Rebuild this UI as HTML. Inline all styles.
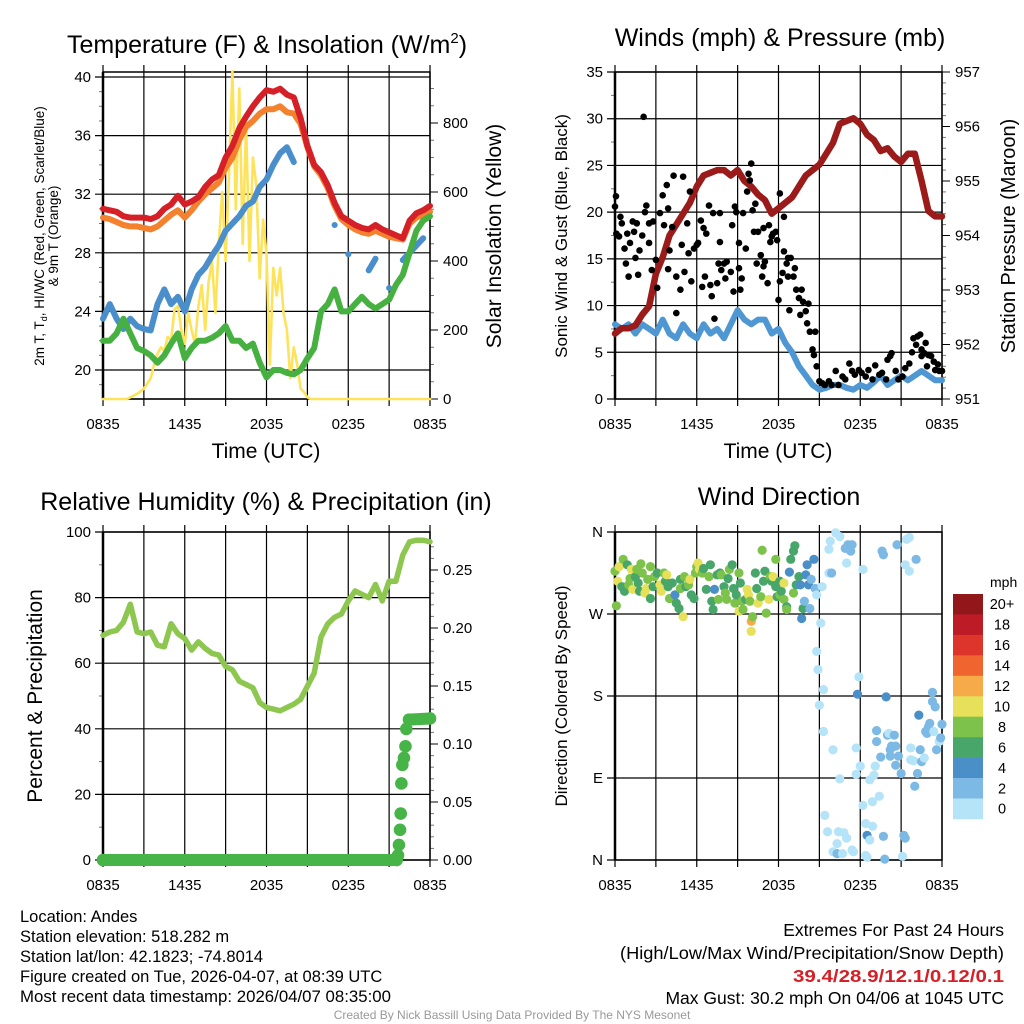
<!DOCTYPE html>
<html><head><meta charset="utf-8"><style>
html,body{margin:0;padding:0;background:#fff;}
svg{display:block;font-family:"Liberation Sans",Arial,sans-serif;}
</style></head><body>
<svg id="fig" width="1024" height="1024" viewBox="0 0 1024 1024" xmlns="http://www.w3.org/2000/svg">
<rect width="1024" height="1024" fill="#fff"/>
<!-- titles -->
<text x="267" y="53" font-size="25" text-anchor="middle">Temperature (F) &amp; Insolation (W/m<tspan font-size="15" dy="-10">2</tspan><tspan dy="10">)</tspan></text>
<text x="780" y="46" font-size="25" text-anchor="middle">Winds (mph) &amp; Pressure (mb)</text>
<text x="266" y="510" font-size="25" text-anchor="middle">Relative Humidity (%) &amp; Precipitation (in)</text>
<text x="779" y="505" font-size="25" text-anchor="middle">Wind Direction</text>
<!-- axis titles -->
<g font-size="13.5" text-anchor="middle">
<text transform="translate(44,236) rotate(-90)">2m T, T<tspan font-size="9" dy="3">d</tspan><tspan dy="-3">, HI/WC (Red, Green, Scarlet/Blue)</tspan></text>
<text transform="translate(58,236) rotate(-90)">&amp; 9m T (Orange)</text>
</g>
<text transform="translate(501,236) rotate(-90)" font-size="21" text-anchor="middle">Solar Insolation (Yellow)</text>
<text x="266" y="458" font-size="21" text-anchor="middle">Time (UTC)</text>
<text x="778" y="458" font-size="21" text-anchor="middle">Time (UTC)</text>
<text transform="translate(567,236) rotate(-90)" font-size="17" text-anchor="middle">Sonic Wind &amp; Gust (Blue, Black)</text>
<text transform="translate(1015,236) rotate(-90)" font-size="20" text-anchor="middle">Station Pressure (Maroon)</text>
<text transform="translate(42,696) rotate(-90)" font-size="21" text-anchor="middle">Percent &amp; Precipitation</text>
<text transform="translate(567,696) rotate(-90)" font-size="17" text-anchor="middle">Direction (Colored By Speed)</text>
<!-- footer -->
<g font-size="16.5">
<text x="20" y="922">Location: Andes</text>
<text x="20" y="942">Station elevation: 518.282 m</text>
<text x="20" y="962">Station lat/lon: 42.1823; -74.8014</text>
<text x="20" y="982">Figure created on Tue, 2026-04-07, at 08:39 UTC</text>
<text x="20" y="1002" textLength="371" lengthAdjust="spacingAndGlyphs">Most recent data timestamp: 2026/04/07 08:35:00</text>
</g>
<g font-size="17.5" text-anchor="end">
<text x="1004" y="936">Extremes For Past 24 Hours</text>
<text x="1004" y="959" textLength="384" lengthAdjust="spacingAndGlyphs">(High/Low/Max Wind/Precipitation/Snow Depth)</text>
<text x="1004" y="982" fill="#d42026" font-weight="bold" textLength="211" lengthAdjust="spacingAndGlyphs">39.4/28.9/12.1/0.12/0.1</text>
<text x="1004" y="1004">Max Gust: 30.2 mph On 04/06 at 1045 UTC</text>
</g>
<text x="512" y="1019" font-size="12" fill="#999" text-anchor="middle">Created By Nick Bassill Using Data Provided By The NYS Mesonet</text>
<g id="plots"></g>
</svg>
<script>
// ---------- data ----------
const xTickLabels = ["0835","1435","2035","0235","0835"];
const tempRed = [31.0,30.9,30.8,30.5,30.4,30.4,30.4,30.3,30.5,31.0,31.3,31.9,31.3,31.5,31.8,32.5,33.0,33.3,34.5,35.3,36.5,37.3,38.0,38.6,39.1,39.0,39.2,38.8,38.6,37.2,35.3,34.0,33.5,32.6,31.4,30.5,30.2,29.9,29.7,29.6,29.9,29.6,29.4,29.2,29.0,30.2,30.7,30.9,31.2];
const tempOrange = [30.4,30.3,30.1,29.9,29.8,29.8,29.7,29.6,29.8,30.2,30.6,30.9,30.4,30.9,31.5,32.0,32.4,32.8,33.8,34.5,35.7,36.6,37.0,37.5,37.8,37.8,38.0,37.6,37.5,36.8,35.2,33.9,33.3,32.4,31.2,30.3,29.9,29.6,29.4,29.3,29.5,29.3,29.1,29.0,28.9,30.0,30.4,30.6,30.8];
const tempBlue = [23.5,24.5,23.5,22.8,23.5,23.0,22.8,22.7,24.5,25.5,24.5,25.0,24.0,25.5,26.5,27.0,27.8,28.5,29.5,30.0,30.5,31.2,31.5,32.5,33.0,34.0,34.8,35.2,34.2,null,null,null,null,null,29.9,null,27.9,null,null,26.8,27.6,null,25.6,null,27.5,28.0,28.5,29.0,null];
const tempGreen = [22.0,22.0,22.5,23.5,22.5,21.5,21.3,21.0,20.5,21.0,21.8,22.5,20.8,21.5,22.0,22.0,22.2,22.5,23.0,22.0,22.0,21.5,21.8,20.5,19.5,20.0,20.0,19.8,19.7,20.0,20.8,21.5,24.0,24.5,25.5,24.0,24.0,24.5,25.0,24.5,24.2,24.5,24.8,25.8,26.5,28.0,29.5,30.2,30.5];
const solar = [0,0,0,0,0,0,0,0,5,10,15,22,30,45,60,100,130,150,140,180,170,260,270,200,160,250,200,160,270,330,200,340,400,250,450,600,400,650,950,550,900,450,800,400,700,620,350,520,420,100,380,300,380,250,200,60,150,100,30,20,5,0,0,0,0,0,0,0,0,0,0,0,0,0,0,0,0,0,0,0,0,0,0,0,0,0,0,0,0,0,0,0,0,0,0,0,0];
const windSpeed = [8,7.5,8,7,8,7.5,7,8.5,7,6.5,8,7,6.5,8,7,7.5,6.5,8,9.5,8.5,8,8.5,8.5,7,7.5,6,5,3.5,2.5,1.5,1,1.2,1.5,1.5,1.2,1,1.5,1.2,1.8,2.5,1.5,2,2.5,2,2.5,3,2.5,2,2];
const pressure = [952.2,952.3,952.3,952.35,952.55,952.7,953.3,953.6,954.0,954.2,954.4,954.6,954.9,955.1,955.15,955.2,955.2,955.1,955.2,955.0,954.9,954.75,954.65,954.4,954.5,954.6,954.7,954.9,955.1,955.2,955.3,955.5,955.7,956.05,956.1,956.15,956.05,955.85,955.75,955.55,955.6,955.45,955.35,955.5,955.5,955.0,954.45,954.35,954.35];
const gustHours = [0,0.07,0.1,0.3,0.4,0.5,0.7,0.9,0.8,1.0,1.1,1.3,1.4,1.5,1.6,1.7,1.8,2.0,2.1,2.2,2.3,2.5,2.5,2.7,2.8,3.0,3.1,3.3,3.5,3.6,3.8,3.9,3.9,4.0,4.2,4.3,4.5,4.5,4.8,4.9,5.0,5.1,5.3,5.5,5.4,5.6,5.8,6.0,6.1,6.3,6.4,6.5,6.6,6.7,6.9,7.0,7.1,7.2,7.3,7.5,7.6,7.7,7.7,7.8,8.0,8.1,8.2,8.5,8.6,8.7,8.8,8.9,9.1,9.1,9.2,9.3,9.4,9.6,9.7,9.8,9.9,10.0,10.1,10.2,10.3,10.4,10.5,10.7,10.8,10.9,10.9,11.0,11.2,11.3,11.4,11.5,11.6,11.8,11.9,12.0,12.1,12.1,12.3,12.4,12.4,12.6,12.7,12.7,12.8,12.9,13.1,13.2,13.3,13.5,13.6,13.7,13.8,14.0,14.1,14.2,14.3,14.5,14.6,14.7,14.8,15.0,15.2,15.4,15.7,15.9,16.2,16.4,16.7,16.9,17.2,17.4,17.6,17.9,18.1,18.4,18.6,18.9,19.1,19.4,19.6,19.9,20.0,20.2,20.3,20.6,20.8,21.1,21.3,21.6,21.8,21.9,22.1,22.2,22.4,22.5,22.5,22.7,22.8,22.9,23.0,23.2,23.4,23.5,23.7,23.8,24.0];
const gustValues = [20.6,21.7,17.7,17.4,19.5,18.8,16.1,17.7,14.5,13.1,16.7,19,17.9,15.1,18.8,13.3,15.9,17.5,30.2,20,20.7,18.8,16.7,13.8,19,14.9,11.9,19.9,21.8,18.6,22.9,20.4,13.9,15.9,18.4,23.9,13.1,9.2,11.7,16.5,23.8,13.6,18.8,22.2,15.6,12.6,16.1,16.5,16.7,19.1,12,18.3,13.1,17.7,20.7,12.2,11,19.9,8.6,12.4,14.5,19.9,16.8,13.8,14.5,12.9,14.7,13.6,18.6,11.5,20.6,20,14,16.7,11.7,12.9,19.9,16.1,22.2,24.1,23.4,25.2,20.2,17.9,20.9,14.5,17.9,15.4,13.1,18.3,14.2,14.7,12.4,18.6,16.8,17.4,17.7,17.9,17,10.6,22,12.6,13.5,19.5,15.8,14.5,15.1,13.1,9.5,15.1,13.1,14,11.7,10.8,9,11.7,10.4,9.4,8.1,10.2,7.2,5.3,4.7,7.2,3.5,1.9,1.7,1.5,1.9,1.5,3,1.5,2.4,2.1,3.8,3,2.6,3.1,2.8,2.4,3.1,2.1,3.6,2.6,2.8,2.1,4.2,4.6,4.9,3,2.1,2.4,3.3,3.8,5,6.5,5.8,6.7,6.9,4.6,5.3,4.9,6,3.5,4.7,4.6,4,3.1,3.7,3,3];
const humidity = [68.5,69.5,70,72.5,78,69.5,69,69.5,65.5,65,72,69,67.5,64,66.5,64.5,63,62.5,59,58,54.5,53.5,52.5,48,46.5,46,45.5,46.5,47.5,49,53,57,68,72,74,75,79,82,81,80,84,79,85,85,93,97,97.5,97.5,97];
const precipHours = [0,21.55,21.65,21.72,21.8,21.85,21.9,21.97,22.09,22.2,22.26,22.46,24];
const precipValues = [0,0,0.004,0.013,0.026,0.04,0.066,0.082,0.088,0.098,0.113,0.121,0.122];
const dirHours = [0.0,0.1,0.2,0.3,0.5,0.6,0.7,0.9,1.0,1.1,1.2,1.3,1.5,1.6,1.7,1.8,1.9,2.0,2.2,2.3,2.4,2.6,2.6,2.8,2.9,3.1,3.3,3.4,3.6,3.7,3.8,3.9,4.0,4.2,4.4,4.5,4.7,4.8,4.8,5.0,5.1,5.2,5.4,5.5,5.6,5.8,5.9,6.0,6.1,6.2,6.4,6.5,6.7,6.9,7.0,7.1,7.2,7.3,7.5,7.6,7.7,7.8,8.0,8.1,8.2,8.3,8.4,8.6,8.7,8.8,8.9,9.1,9.2,9.3,9.1,9.4,9.6,9.7,9.8,9.9,10.0,10.0,10.1,10.3,10.4,10.5,10.7,10.8,10.9,11.0,11.1,11.3,11.4,11.5,11.6,11.8,11.8,11.9,12.1,12.1,12.2,12.4,12.4,12.6,12.6,12.8,12.9,13.1,13.1,13.2,13.3,13.5,13.6,13.7,13.8,13.9,14.0,14.1,14.2,14.3,14.4,14.6,14.7,14.8,15.2,15.1,14.8,14.9,15.3,15.0,15.3,16.0,15.4,15.6,15.7,15.7,15.8,16.2,16.5,16.9,17.1,17.4,17.3,17.0,18.2,17.9,17.8,17.7,18.0,17.7,16.5,16.0,16.3,16.7,16.3,17.0,16.4,16.8,17.4,17.5,18.2,18.4,18.5,18.7,18.9,18.9,19.4,18.7,19.0,19.1,19.2,19.2,19.5,19.7,19.8,18.4,18.5,19.9,20.0,20.1,20.2,20.3,20.5,20.6,20.2,20.6,20.8,21.0,21.2,21.3,21.1,21.7,21.7,21.9,22.0,22.2,22.3,22.4,22.5,22.7,22.8,22.9,23.0,23.1,23.3,23.3,23.5,23.4,23.6,23.8,23.9,24.0,19.6,19.7,20.7,21.4,21.6,21.3,21.6,22.1,15.9];
const dirDegrees = [317,279,306,322,300,330,295,324,302,309,319,297,311,319,304,295,325,315,293,298,308,287,322,300,311,315,302,295,315,306,313,300,287,304,291,282,276,298,308,267,311,300,302,308,291,287,315,322,326,319,315,320,297,311,324,284,275,297,313,286,315,313,300,293,286,309,319,324,298,282,291,315,304,284,273,275,286,297,291,284,262,251,267,315,298,282,289,340,306,317,271,286,311,306,311,330,300,289,291,306,295,304,286,278,275,316,330,293,339,345,302,311,302,265,276,284,313,324,302,276,308,330,298,291,300,260,229,209,187,170,141,121,49,31,315,341,350,359,355,342,346,346,339,326,319,201,182,123,103,94,89,9,7,7,18,24,31,30,11,9,60,40,27,22,37,64,70,88,93,103,130,142,113,26,1,5,3,179,137,139,121,125,137,125,114,104,114,95,27,24,4,110,123,109,81,95,159,121,108,112,141,139,146,150,184,174,168,141,121,130,134,149,339,335,346,352,354,324,317,330,315];
const dirSpeeds = [9,9,11,11,7,9,7,7,9,9,11,11,7,9,7,7,9,9,11,11,9,7,9,7,9,7,11,11,9,7,11,7,9,7,5,7,7,9,7,11,9,7,9,11,7,7,9,9,11,11,9,7,7,9,7,7,7,5,7,9,7,9,7,9,9,7,9,7,7,9,7,9,7,9,11,9,7,11,11,9,13,11,9,7,7,11,9,9,7,7,9,11,9,7,11,9,7,7,9,7,7,11,9,7,9,5,7,9,7,7,7,7,5,5,7,3,5,5,5,3,3,5,3,1,1,1,1,1,1,1,1,1,1,1,1,1,1,1,1,3,3,3,3,1,1,1,5,1,1,1,1,1,3,1,1,1,1,1,1,1,1,1,5,1,1,1,1,1,1,1,3,3,3,3,3,1,1,5,3,1,3,3,3,3,3,3,3,3,3,3,1,1,1,1,3,3,5,3,3,1,3,3,3,3,3,3,3,1,3,1,3,3,3,3,3,1,1,1,1,3,3,3,1,1];
const speedBins = ["0","2","4","6","8","10","12","14","16","18","20+"];
const speedColors = ["#b5e3f8","#7cb9e4","#4a8fc7","#48a66b","#7dc24a","#e6e05a","#f6aa48","#f06430","#dd352b","#bd1c26","#92171b"];

// ---------- helpers ----------
const NS = "http://www.w3.org/2000/svg";
const root = document.getElementById("plots");
function mk(tag, attrs, parent) {
  const e = document.createElementNS(NS, tag);
  for (const k in attrs) e.setAttribute(k, attrs[k]);
  (parent || root).appendChild(e);
  return e;
}
function xScale(P, h) { return P.x0 + (h / 24) * (P.x1 - P.x0); }
function linScale(v, d0, d1, p0, p1) { return p0 + (v - d0) / (d1 - d0) * (p1 - p0); }

const P1 = {x0:103, x1:430, y0:72, y1:399};
const P2 = {x0:615, x1:942, y0:72, y1:399};
const P3 = {x0:103, x1:430, y0:532, y1:860};
const P4 = {x0:615, x1:942, y0:532, y1:860};

function frame(P, name, leftTicks, rightTicks) {
  const g = mk("g", {});
  
  
  for (let h = 0; h <= 24; h += 3) {
    const x = xScale(P, h);
    mk("line", {x1:x, x2:x, y1:P.y0 - 7, y2:P.y1 + 7, stroke:"#000", "stroke-width":1.2}, g);
  }
  leftTicks.forEach(t => {
    const y = t.y;
    if (t.grid) mk("line", {x1:P.x0 - 8, x2:P.x1, y1:y, y2:y, stroke:"#000", "stroke-width":1.2}, g);
    else mk("line", {x1:P.x0 - 4, x2:P.x0, y1:y, y2:y, stroke:"#777", "stroke-width":1}, g);
    if (t.label !== undefined) {
      const tx = mk("text", {x:P.x0 - 12, y:y + 5, "font-size":15, "text-anchor":"end"}, g);
      tx.textContent = t.label;
    }
  });
  rightTicks.forEach(t => {
    const y = t.y;
    mk("line", {x1:P.x1, x2:P.x1 + (t.label !== undefined ? 8 : 4), y1:y, y2:y, stroke:t.label !== undefined ? "#000" : "#777", "stroke-width":1}, g);
    if (t.label !== undefined) {
      const tx = mk("text", {x:P.x1 + 13, y:y + 5, "font-size":15}, g);
      tx.textContent = t.label;
    }
  });
  mk("rect", {x:P.x0, y:P.y0, width:P.x1 - P.x0, height:P.y1 - P.y0, fill:"none", stroke:"#000", "stroke-width":1.5}, g);
  mk("line", {x1:P.x0, x2:P.x0, y1:P.y0, y2:P.y1, stroke:"#000", "stroke-width":2.5}, g);
  xTickLabels.forEach((lab, i) => {
    const x = xScale(P, i * 6);
    const tx = mk("text", {x:x, y:P.y1 + 30, "font-size":15, "text-anchor":"middle"}, g);
    
    
    tx.textContent = lab;
  });
  return g;
}
function pathFrom(P, arr, yf, step) {
  let d = "", pen = false, segs = [];
  arr.forEach((v, i) => {
    if (v === null) { pen = false; return; }
    const x = xScale(P, i * step), y = yf(v);
    if (!pen) { segs.push([[x, y]]); pen = true; } else segs[segs.length - 1].push([x, y]);
  });
  segs.forEach(s => {
    d += "M" + s.map(p => p[0].toFixed(1) + "," + p[1].toFixed(1)).join("L");
    if (s.length === 1) d += "l0.1,0";
  });
  return d;
}
function series(P, arr, yf, step, color, width, name) {
  const p = mk("path", {d:pathFrom(P, arr, yf, step), fill:"none", stroke:color, "stroke-width":width, "stroke-linejoin":"round", "stroke-linecap":"round"});
  
  
  return p;
}

// ---------- panel 1 ----------
const y1L = v => linScale(v, 20, 40, 370, 77);
const y1R = v => linScale(v, 0, 800, 399, 123);
let lt = [], rt = [];
for (let v = 19; v <= 40; v++) lt.push({y:y1L(v), grid:(v % 4 === 0), label:(v % 4 === 0 ? String(v) : undefined)});
for (let v = 0; v <= 900; v += 50) rt.push({y:y1R(v), label:(v % 200 === 0 ? String(v) : undefined)});
frame(P1, "temperature", lt, rt);
mk("line", {x1:P1.x0, x2:P1.x1, y1:P1.y1, y2:P1.y1, stroke:"#000", "stroke-width":1.2});
series(P1, solar, y1R, 0.25, "#fde35c", 2.6, "solar-insolation-line");
series(P1, tempOrange, y1L, 0.5, "#f4812e", 6, "temp-9m-line");
series(P1, tempRed, y1L, 0.5, "#d42026", 6, "temp-2m-line");
series(P1, tempBlue, y1L, 0.5, "#4a8fcb", 6, "heat-index-windchill-line");
series(P1, tempGreen, y1L, 0.5, "#46b041", 6, "dewpoint-line");

// ---------- panel 2 ----------
const y2L = v => linScale(v, 0, 35, 399, 72);
const y2R = v => linScale(v, 951, 957, 399, 72);
lt = []; rt = [];
for (let v = 0; v <= 35; v += 2.5) lt.push({y:y2L(v), grid:(v % 5 === 0), label:(v % 5 === 0 ? String(v) : undefined)});
for (let v = 951; v <= 957.001; v += 0.2) { const r = Math.round(v * 10) / 10; rt.push({y:y2R(r), label:(Math.abs(r - Math.round(r)) < 0.01 ? String(Math.round(r)) : undefined)}); }
frame(P2, "winds", lt, rt);
series(P2, windSpeed, y2L, 0.5, "#4f97d2", 6, "sonic-wind-line");
series(P2, pressure, y2R, 0.5, "#9b1b1b", 6.5, "pressure-line");
gustHours.forEach((h, i) => {
  const c = mk("circle", {cx:xScale(P2, h), cy:y2L(gustValues[i]), r:3.3, fill:"#000"});
  
  
});

// ---------- panel 3 ----------
const y3L = v => linScale(v, 0, 100, 860, 532);
const y3R = v => linScale(v, 0, 0.25, 860, 570);
lt = []; rt = [];
for (let v = 0; v <= 100; v += 10) lt.push({y:y3L(v), grid:(v % 20 === 0), label:(v % 20 === 0 ? String(v) : undefined)});
for (let v = 0; v <= 0.28; v += 0.01) { const r = Math.round(v * 100) / 100; rt.push({y:y3R(r), label:(Math.round(r * 100) % 5 === 0 ? r.toFixed(2) : undefined)}); }
frame(P3, "humidity", lt, rt);
series(P3, humidity, y3L, 0.5, "#8dc750", 5.5, "relative-humidity-line");
for (let i = 0; i < precipHours.length - 1; i++) {
  if (Math.abs(precipValues[i + 1] - precipValues[i]) < 0.002) {
    const l = mk("line", {x1:xScale(P3, precipHours[i]), x2:xScale(P3, precipHours[i + 1]), y1:y3R(precipValues[i]), y2:y3R(precipValues[i + 1]), stroke:"#46b446", "stroke-width":12, "stroke-linecap":"round"});
    
    
  }
}
precipHours.forEach((h, i) => {
  const c = mk("circle", {cx:xScale(P3, h), cy:y3R(precipValues[i]), r:6.3, fill:"#46b446"});
  
  
});

// ---------- panel 4 ----------
const y4 = d => linScale(d, 0, 360, 860, 532);
const dirLabels = ["N","E","S","W","N"];
lt = [];
dirLabels.forEach((lab, i) => lt.push({y:y4(i * 90), grid:true, label:lab}));
frame(P4, "wind-direction", lt, []);
function speedColor(s) { const k = Math.min(10, Math.floor(s / 2)); return speedColors[k]; }
dirHours.forEach((h, i) => {
  const c = mk("circle", {cx:xScale(P4, h), cy:y4(dirDegrees[i]), r:4.6, fill:speedColor(dirSpeeds[i])});
  
  
});
const cb = mk("g", {});


const cbTop = 594, cbH = 20.45;
const mt = mk("text", {x:990, y:587, "font-size":14}, cb);
mt.textContent = "mph";
for (let k = 10; k >= 0; k--) {
  const y = cbTop + (10 - k) * cbH;
  const r = mk("rect", {x:953, y:y, width:30, height:cbH + 0.3, fill:speedColors[k]}, cb);
  
  
  const t = mk("text", {x:1002, y:y + cbH / 2 + 5, "font-size":14.5, "text-anchor":"middle"}, cb);
  t.textContent = speedBins[k];
}
</script>
</body></html>
